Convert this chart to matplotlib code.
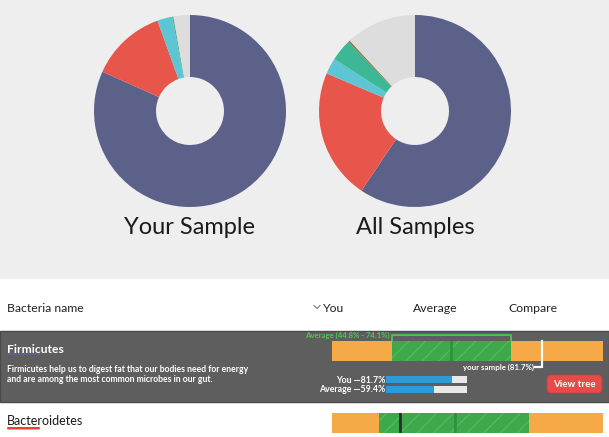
import matplotlib
matplotlib.use("Agg")
import matplotlib.pyplot as plt
from matplotlib.patches import Rectangle, FancyBboxPatch
from matplotlib.transforms import blended_transform_factory

# ---------------- data ----------------
pie_titles = ["Your Sample", "All Samples"]
phyla = ["Firmicutes", "Bacteroidetes", "Actinobacteria", "Proteobacteria",
         "Verrucomicrobia", "Other"]
your_sample = [81.7, 12.8, 2.5, 0.2, 0.05, 2.75]
all_samples = [59.4, 22.0, 2.7, 3.7, 0.3, 11.9]

header_labels = ["Bacteria name", "You", "Average", "Compare"]

row_names = ["Firmicutes", "Bacteroidetes"]
row_desc = ["Firmicutes help us to digest fat that our bodies need for energy",
            "and are among the most common microbes in our gut."]
firm_you = 81.7
firm_avg = 59.4
firm_range = (44.8, 74.1)
firm_scale = (30.0, 96.8)
bact_you = 12.8
bact_avg = 22.0
bact_range = (9.1, 34.6)
bact_scale = (1.2, 47.2)
mini_labels = ["You", "Average"]
mini_values = [firm_you, firm_avg]

# ---------------- style ----------------
pie_colors = ["#5b6189", "#e8564b", "#5cc6d4", "#3db896", "#8a7a3a", "#dddddd"]
ORANGE = "#f6a947"
GREEN = "#3ea94a"
GREEN_HATCH = "#52b95b"
GREEN_TXT = "#4fc453"
PANEL = "#5e5e5e"
BLUE = "#2b9bd9"
FONT = "Lato"

plt.rcParams['font.family'] = [FONT, 'DejaVu Sans']
plt.rcParams['hatch.linewidth'] = 1.0

W, H = 609, 437
fig = plt.figure(figsize=(W / 100, H / 100), dpi=100, facecolor="white")


def px_axes(x0, y0, x1, y1):
    return fig.add_axes([x0 / W, 1 - y1 / H, (x1 - x0) / W, (y1 - y0) / H])


ax0 = fig.add_axes([0, 0, 1, 1])
ax0.set_xlim(0, W)
ax0.set_ylim(H, 0)
ax0.axis("off")

# backgrounds
ax0.add_patch(Rectangle((0, 0), W, 279, facecolor="#eeeeee", lw=0))
ax0.add_patch(Rectangle((0, 331), W, 71, facecolor=PANEL, edgecolor="#4a4a4a", lw=1))

# ---------------- donuts ----------------
for cx, vals, title in [(190, your_sample, pie_titles[0]), (415, all_samples, pie_titles[1])]:
    pa = px_axes(cx - 96, 15, cx + 96, 207)
    pa.pie(vals, colors=pie_colors, startangle=90, counterclock=False, radius=1,
           wedgeprops=dict(width=0.646, linewidth=0))
    pa.set_xlim(-1, 1)
    pa.set_ylim(-1, 1)
    pa.axis("off")
    ax0.text(cx, 234, title, ha="center", va="baseline", fontsize=17, color="#1a1a1a")

# ---------------- header ----------------
ax0.text(7, 312, header_labels[0], fontsize=8.8, va="baseline", color="#222222")
ax0.plot([314, 317, 320], [305.5, 308.5, 305.5], color="#777777", lw=0.8)
ax0.text(323, 312, header_labels[1], fontsize=8.8, va="baseline", color="#222222")
ax0.text(413, 312, header_labels[2], fontsize=8.8, va="baseline", color="#222222")
ax0.text(508, 312, header_labels[3], fontsize=8.8, va="baseline", color="#222222")

# ---------------- Firmicutes row ----------------
ax0.add_patch(Rectangle((7, 352.5), 33, 2, facecolor="#5b6189", lw=0))
ax0.text(7, 353, row_names[0], fontsize=8.7, fontweight="bold", va="baseline", color="white")
ax0.text(7, 372.5, row_desc[0], fontsize=6.2, fontweight="bold", va="baseline", color="white")
ax0.text(7, 382.5, row_desc[1], fontsize=6.2, fontweight="bold", va="baseline", color="white")


def compare_bar(y0, y1, scale, rng, avg, you, you_color, show_labels):
    ca = px_axes(332, y0, 603, y1)
    ca.set_xlim(*scale)
    ca.set_ylim(-0.5, 0.5)
    ca.axis("off")
    ca.barh(0, scale[1] - scale[0], left=scale[0], height=1, color=ORANGE, lw=0)
    ca.barh(0, rng[1] - rng[0], left=rng[0], height=1, color=GREEN,
            edgecolor=GREEN_HATCH, hatch="//", lw=0)
    ca.axvline(avg, color="#2f8f38", lw=1.8)
    trans = blended_transform_factory(ca.transData, ca.transAxes)
    unit = (scale[1] - scale[0]) / 271.0
    hgt = y1 - y0
    if show_labels:
        yb = 1 + 6.0 / hgt
        ca.plot([rng[0], rng[0], rng[1], rng[1]], [1.05, yb, yb, 1.05],
                color=GREEN_TXT, lw=1.3, transform=trans, clip_on=False)
        ca.text(rng[0] - 2 * unit, yb - 2.5 / hgt,
                "Average (%.1f%% - %.1f%%)" % rng, transform=trans,
                ha="right", va="baseline", fontsize=5.6, fontweight="bold",
                color=GREEN_TXT, clip_on=False)
        ylow = -6.0 / hgt
        ca.plot([you, you, you - 7 * unit], [1.0, ylow, ylow], color="white",
                lw=1.6, transform=trans, clip_on=False, solid_joinstyle="miter")
        ca.text(you - 8 * unit, ylow - 3.0 / hgt, "your sample (%.1f%%)" % you,
                transform=trans, ha="right", va="baseline", fontsize=5.7,
                fontweight="bold", color="white", clip_on=False)
    else:
        ca.axvline(you, color=you_color, lw=2)
    return ca


compare_bar(341, 361, firm_scale, firm_range, firm_avg, firm_you, "white", True)

# mini bars
ma = px_axes(386, 375.5, 467, 393.5)
ma.set_xlim(0, 100)
ma.set_ylim(1.45, -0.45)
ma.axis("off")
ma.barh([0, 1], [100, 100], height=0.72, color="#e8e8e8", lw=0)
ma.barh([0, 1], mini_values, height=0.72, color=BLUE, lw=0)
for i, (lab, v) in enumerate(zip(mini_labels, mini_values)):
    ma.text(-1, i + 0.33, "%s \u2014%.1f%%" % (lab, v), ha="right", va="baseline",
            fontsize=6.3, fontweight="bold", color="white")

# button
ax0.add_patch(FancyBboxPatch((547, 375), 55, 18, boxstyle="round,pad=0,rounding_size=3",
                             facecolor="#e84a4a", edgecolor="#c93a3a", lw=0.5))
ax0.text(574.5, 387, "View tree", ha="center", va="baseline", fontsize=7,
         fontweight="bold", color="white")

# ---------------- Bacteroidetes row ----------------
ax0.add_patch(FancyBboxPatch((7, 427), 33, 2.5, boxstyle="round,pad=0,rounding_size=1.2",
                             facecolor="#e8413c", lw=0))
ax0.text(7, 425, row_names[1], fontsize=9, va="baseline", color="#1a1a1a")
compare_bar(413, 433, bact_scale, bact_range, bact_avg, bact_you, "#2d2d2d", False)

fig.savefig("out.png", dpi=100, facecolor="white")
